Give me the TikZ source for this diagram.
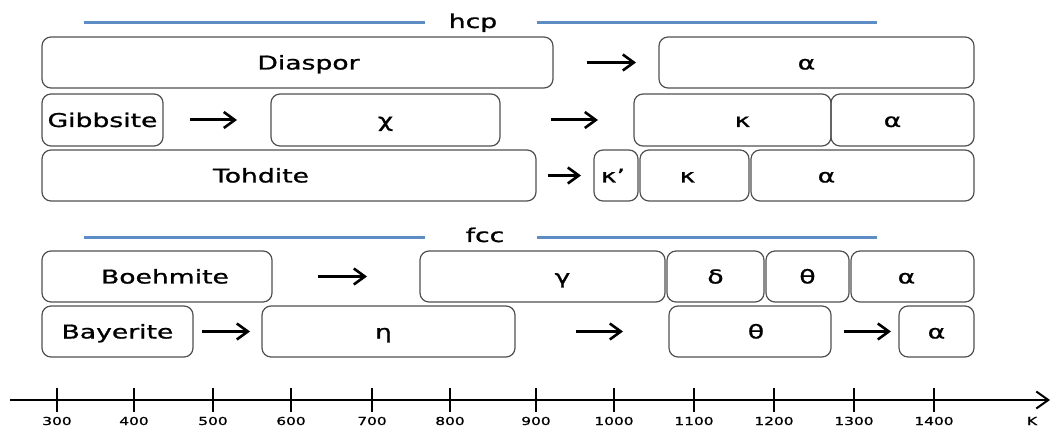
\documentclass[tikz,border=0pt]{standalone}
\usepackage{fontspec}
\setmainfont{DejaVu Sans}[FakeBold=0.9]
\usetikzlibrary{arrows.meta}
\definecolor{hblue}{RGB}{94,140,196}
\definecolor{bgray}{RGB}{80,80,80}
\newcommand\wt[2][0pt]{\makebox[0pt]{\hspace*{#1}\hspace*{#1}\scalebox{1.4}[1]{#2}}}
\tikzset{
  box/.style={draw=bgray, line width=1.2pt, rounded corners=9pt, inner sep=0pt, outer sep=0pt,
    text height=16pt, text depth=2pt, font=\fontsize{19}{22}\selectfont},
  trans/.style={line width=3pt, -{Straight Barb[length=11pt,width=16pt,line width=2.6pt]}},
  phase/.style={draw=hblue, line width=3pt},
  phaselbl/.style={anchor=base, inner sep=0pt, font=\fontsize{19}{22}\selectfont},
  tick/.style={line width=1.1pt},
  ticklbl/.style={anchor=base, inner sep=0pt, font=\fontsize{11}{13}\selectfont},
}
\begin{document}
\begin{tikzpicture}[x=1pt,y=-1pt]
\useasboundingbox (0,0) rectangle (1056,427);
% phase group headings
\node[phaselbl] (hcp) at (473,28) {\wt{hcp}};
\draw[phase] (84,23) -- (425,23);
\draw[phase] (537,23) -- (877,23);
\node[phaselbl] (fcc) at (485,242) {\wt{fcc}};
\draw[phase] (84,238) -- (425,238);
\draw[phase] (537,238) -- (877,238);
% row 1
\node[box, minimum width=511pt, minimum height=51pt] (diaspor) at (297.5,62.5) {\wt[11pt]{Diaspor}};
\node[box, minimum width=315pt, minimum height=51pt] (a1) at (816.5,62.5) {\wt[-10pt]{α}};
\draw[trans, shorten <=34pt, shorten >=23pt] (diaspor.east) -- (a1.west);
% row 2
\node[box, minimum width=121pt, minimum height=52pt] (gibb) at (102.5,120) {\wt{Gibbsite}};
\node[box, minimum width=229pt, minimum height=52pt] (chi) at (385.5,120) {\wt{χ}};
\node[box, minimum width=197pt, minimum height=52pt] (k2) at (732.5,120) {\wt[10pt]{κ}};
\node[box, minimum width=143pt, minimum height=52pt] (a2) at (902.5,120) {\wt[-10pt]{α}};
\draw[trans, shorten <=27pt, shorten >=34pt] (gibb.east) -- (chi.west);
\draw[trans, shorten <=51pt, shorten >=36pt] (chi.east) -- (k2.west);
% row 3
\node[box, minimum width=494pt, minimum height=51pt] (tohd) at (289,175.5) {\wt[-28pt]{Tohdite}};
\node[box, minimum width=44pt, minimum height=51pt] (kp3) at (616,175.5) {\wt[-3pt]{κ’}};
\node[box, minimum width=109pt, minimum height=51pt] (k3) at (694.5,175.5) {\wt[-7pt]{κ}};
\node[box, minimum width=223pt, minimum height=51pt] (a3) at (862.5,175.5) {\wt[-36pt]{α}};
\draw[trans, shorten <=12pt, shorten >=13pt] (tohd.east) -- (kp3.west);
% row 4
\node[box, minimum width=230pt, minimum height=51pt] (boeh) at (157,276.5) {\wt[8pt]{Boehmite}};
\node[box, minimum width=245pt, minimum height=51pt] (g4) at (542.5,276.5) {\wt[20pt]{γ}};
\node[box, minimum width=97pt, minimum height=51pt] (d4) at (715.5,276.5) {\wt{δ}};
\node[box, minimum width=83pt, minimum height=51pt] (t4) at (807.5,276.5) {\wt{θ}};
\node[box, minimum width=123pt, minimum height=51pt] (a4) at (912.5,276.5) {\wt[-6pt]{α}};
\draw[trans, shorten <=46pt, shorten >=53pt] (boeh.east) -- (g4.west);
% row 5
\node[box, minimum width=151pt, minimum height=51pt] (baye) at (117.5,331.5) {\wt{Bayerite}};
\node[box, minimum width=253pt, minimum height=51pt] (eta) at (388.5,331.5) {\wt[-5pt]{η}};
\node[box, minimum width=162pt, minimum height=51pt] (t5) at (750,331.5) {\wt[6pt]{θ}};
\node[box, minimum width=75pt, minimum height=51pt] (a5) at (936.5,331.5) {\wt{α}};
\draw[trans, shorten <=9pt, shorten >=12pt] (baye.east) -- (eta.west);
\draw[trans, shorten <=61pt, shorten >=46pt] (eta.east) -- (t5.west);
\draw[trans, shorten <=13pt, shorten >=8pt] (t5.east) -- (a5.west);
% temperature axis
\draw[line width=1.3pt, -{Straight Barb[length=12pt,width=17pt,line width=2pt]}] (10,400) -- (1050,400);
\foreach \x/\t in {57/300,134/400,213/500,291/600,372/700,450/800,536/900,614/1000,694/1100,774/1200,854/1300,934/1400}{
  \draw[tick] (\x,388) -- (\x,412);
  \node[ticklbl] at (\x,425) {\wt{\t}};
}
\node[ticklbl] (kelvin) at (1032,425) {\wt{K}};
\end{tikzpicture}
\end{document}
